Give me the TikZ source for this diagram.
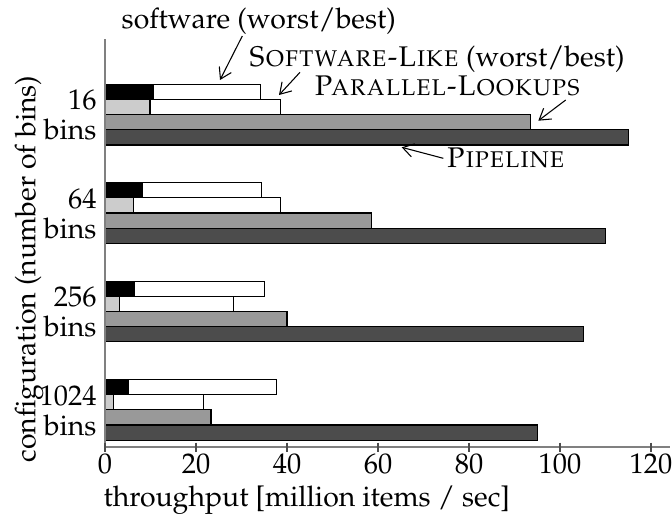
\documentclass[tikz,border=0pt]{standalone}
\usepackage[T1]{fontenc}
\usepackage{mathpazo}
\usetikzlibrary{arrows.meta}

\definecolor{worstsw}{gray}{0}
\definecolor{swlike}{gray}{0.8}
\definecolor{parlook}{gray}{0.6}
\definecolor{pipe}{gray}{0.3}
\definecolor{axisgray}{gray}{0.5}

\tikzset{
  barbox/.style={draw=black, line width=0.45pt},
  axisline/.style={draw=axisgray, line width=0.6pt},
  tickmark/.style={draw=black!70, line width=0.5pt},
  callout/.style={draw=black, line width=0.4pt, -{Straight Barb[length=4pt,width=5pt]}},
  txt/.style={inner sep=0pt, outer sep=0pt},
}

\begin{document}
\begin{tikzpicture}[x=0.373pt, y=-0.373pt, font=\fontsize{10.6}{11.2}\selectfont]
\useasboundingbox (0,0) rectangle (672,514);

% bars: one group per configuration, values in million items / sec
% top / sw worst / sw best / swlike worst / swlike best / parallel / pipeline
\begin{scope}[shift={(105,0)}, xscale=4.55]
\foreach \t/\sw/\swb/\sl/\slb/\pl/\pp in {
    84.3/10.6/34.1/9.9/38.6/93.5/115.1,
    182.7/8.3/34.4/6.2/38.6/58.6/110,
    281.1/6.5/35.1/3.1/28.3/40.0/105.1,
    379.5/5.1/37.7/1.9/21.7/23.3/95.1} {
  \pgfmathsetmacro{\ya}{\t}
  \pgfmathsetmacro{\yb}{\t+15.15}
  \pgfmathsetmacro{\yc}{\t+30.3}
  \pgfmathsetmacro{\yd}{\t+45.45}
  \pgfmathsetmacro{\ye}{\t+60.6}
  \draw[barbox, fill=white]   (0,\ya) rectangle (\swb,\yb);
  \draw[barbox, fill=worstsw] (0,\ya) rectangle (\sw,\yb);
  \draw[barbox, fill=white]   (0,\yb) rectangle (\slb,\yc);
  \draw[barbox, fill=swlike]  (0,\yb) rectangle (\sl,\yc);
  \draw[barbox, fill=parlook] (0,\yc) rectangle (\pl,\yd);
  \draw[barbox, fill=pipe]    (0,\yd) rectangle (\pp,\ye);
}
\end{scope}

% axes
\coordinate (origin) at (105,447);
\coordinate (ytop) at (105,39.3);
\coordinate (xend) at (670,447);
\draw[axisline] (ytop) -- (origin) -- (xend);
\foreach \v in {0,20,...,120} {
  \coordinate (tk\v) at ({105+4.55*\v},447);
  \draw[tickmark] ([yshift=4.5*0.373pt]tk\v) -- ([yshift=-4.5*0.373pt]tk\v);
  \node[anchor=base] (tl\v) at ({105+4.55*\v},473) {\v};
}
\node[anchor=base west, inner sep=0pt] (xlabel) at (103,506) {throughput [million items / sec]};
\node[rotate=90] (ylabel) at (29,269) {configuration (number of bins)};

% group labels
\foreach \t/\n in {84.3/16, 182.7/64, 281.1/256, 379.5/1024} {
  \node[anchor=east, align=right, inner sep=0pt] (g\n) at (97,\t+31) {\n\\bins};
}

% legend callouts
\node[txt, anchor=base west] (lsw) at (121.7,28.3) {software (worst/best)};
\node[txt, anchor=base west] (lsl) at (249,66) {\textsc{Software-Like} (worst/best)};
\node[txt, anchor=base west] (lpl) at (314.3,95) {\textsc{Parallel-Lookups}};
\node[txt, anchor=base west] (lpp) at (446.7,167.7) {\textsc{Pipeline}};

\coordinate (swtail) at (242.3,36);
\coordinate (swtip) at (220,80);
\coordinate (sltail) at (300,72.3);
\coordinate (sltip) at (279,95);
\coordinate (pltail) at (565.7,100);
\coordinate (pltip) at (538.3,120.7);
\coordinate (pptail) at (443.3,158.3);
\coordinate (pptip) at (401.7,147.3);
\draw[callout] (swtail) -- (swtip);
\draw[callout] (sltail) -- (sltip);
\draw[callout] (pltail) -- (pltip);
\draw[callout] (pptail) -- (pptip);
\end{tikzpicture}
\end{document}
